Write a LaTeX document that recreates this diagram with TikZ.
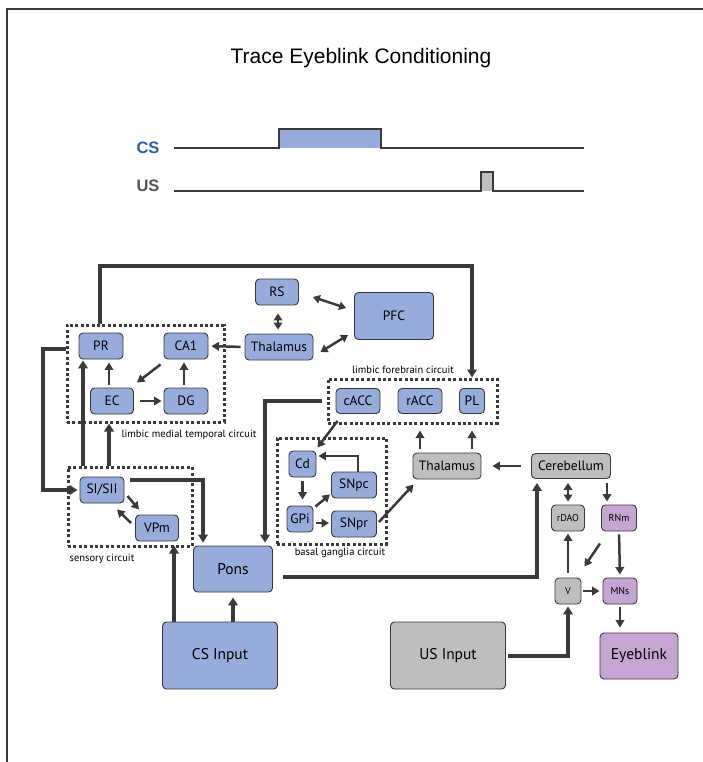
\documentclass[tikz,border=0pt]{standalone}
\usepackage{fontspec}
\setmainfont{PT Sans}
\newfontfamily\arialf{Liberation Sans}
\usetikzlibrary{arrows.meta,calc}
\definecolor{bluef}{HTML}{97ACDB}
\definecolor{grayf}{HTML}{BDBEC0}
\definecolor{purpf}{HTML}{C5A6D3}
\definecolor{edgec}{HTML}{3A3A3A}
\definecolor{csblue}{HTML}{2F5DAA}
\definecolor{usgray}{HTML}{555555}
\tikzset{
  box/.style={draw=edgec, line width=0.9pt, rounded corners=4pt, inner sep=0pt,
    font=\fontsize{13.5}{14}\selectfont},
  bbox/.style={box, fill=bluef},
  gbox/.style={box, fill=grayf},
  pbox/.style={box, fill=purpf},
  smalltxt/.style={font=\fontsize{10}{11}\selectfont},
  bigtxt/.style={font=\fontsize{15.5}{16}\selectfont},
  circ/.style={draw=edgec, line width=3pt, dash pattern=on 3pt off 2.4pt, inner sep=0pt},
  arr/.style={draw=edgec, line width=2.5pt, -{Triangle[length=7.5pt,width=8.5pt]}},
  darr/.style={draw=edgec, line width=2.5pt, {Triangle[length=7pt,width=8.5pt]}-{Triangle[length=7pt,width=8.5pt]}},
  arrb/.style={draw=edgec, line width=3.3pt, -{Triangle[length=8pt,width=9.5pt]}},
  lbl/.style={font=\fontsize{10.5}{11}\selectfont, inner sep=0pt},
}
\begin{document}
\begin{tikzpicture}[x=1pt,y=-1pt]
\useasboundingbox (0,0) rectangle (703,762);
% frame
\draw[edgec, line width=1.4pt] (7,762) -- (7,9) -- (703,9);
% title
\node[font=\arialf\fontsize{21}{24}\selectfont] (title) at (361,58) {Trace Eyeblink Conditioning};
% timeline
\node[font=\arialf\bfseries\fontsize{16.5}{18}\selectfont, text=csblue] (cslab) at (148,148) {CS};
\node[font=\arialf\bfseries\fontsize{16.5}{18}\selectfont, text=usgray] (uslab) at (148,186) {US};
\fill[bluef] (279,129) rectangle (381,148);
\draw[edgec, line width=1.4pt] (174,148) -- (279,148) -- (279,129) -- (381,129) -- (381,148) -- (584,148);
\fill[grayf] (481,172) rectangle (493,191);
\draw[edgec, line width=1.4pt] (174,191) -- (481,191) -- (481,172) -- (493,172) -- (493,191) -- (584,191);

% dotted circuits
\node[circ, minimum width=157pt, minimum height=97pt] (LMT) at (145.5,373.5) {};
\node[circ, minimum width=169pt, minimum height=44pt] (LF) at (412.5,401) {};
\node[circ, minimum width=109pt, minimum height=106pt] (BG) at (331.5,491) {};
\node[circ, minimum width=124pt, minimum height=79pt] (Sens) at (130,506.5) {};
\node[lbl] (lmtl) at (189,435) {limbic medial temporal circuit};
\node[lbl] (lfl) at (403,370) {limbic forebrain circuit};
\node[lbl] (bgl) at (340,553) {basal ganglia circuit};
\node[lbl] (sensl) at (102,559) {sensory circuit};

% nodes
\node[bbox, minimum width=43pt, minimum height=26pt] (RS) at (277,292) {RS};
\node[bbox, minimum width=79pt, minimum height=47pt] (PFC) at (394,316) {PFC};
\node[bbox, minimum width=68pt, minimum height=26pt] (ThalT) at (279,347) {Thalamus};
\node[bbox, minimum width=44pt, minimum height=26pt] (PR) at (101,346) {PR};
\node[bbox, minimum width=44pt, minimum height=26pt] (CA1) at (186,346) {CA1};
\node[bbox, minimum width=43pt, minimum height=26pt] (EC) at (112,401) {EC};
\node[bbox, minimum width=44pt, minimum height=26pt] (DG) at (186,401) {DG};
\node[bbox, minimum width=44pt, minimum height=26pt] (SI) at (102,490) {SI/SII};
\node[bbox, minimum width=43pt, minimum height=26pt] (VPm) at (157,528) {VPm};
\node[bbox, bigtxt, minimum width=79pt, minimum height=46pt] (Pons) at (233,569) {Pons};
\node[bbox, bigtxt, minimum width=115pt, minimum height=67pt] (CSin) at (220,655.5) {CS Input};
\node[gbox, bigtxt, minimum width=115pt, minimum height=67pt] (USin) at (448,655.5) {US Input};
\node[bbox, minimum width=44pt, minimum height=25pt] (cACC) at (358,401) {cACC};
\node[bbox, minimum width=44pt, minimum height=25pt] (rACC) at (420,401) {rACC};
\node[bbox, minimum width=25pt, minimum height=25pt] (PL) at (472,401) {PL};
\node[bbox, minimum width=27pt, minimum height=26pt] (Cd) at (302.5,464) {Cd};
\node[bbox, minimum width=45pt, minimum height=26pt] (SNpc) at (354,485) {SNpc};
\node[bbox, minimum width=26pt, minimum height=26pt] (GPi) at (300,519) {GPi};
\node[bbox, minimum width=45pt, minimum height=26pt] (SNpr) at (354,524) {SNpr};
\node[gbox, minimum width=68pt, minimum height=26pt] (ThalG) at (447,466) {Thalamus};
\node[gbox, minimum width=79pt, minimum height=25pt] (Cereb) at (571,466) {Cerebellum};
\node[gbox, smalltxt, minimum width=33pt, minimum height=26pt] (rDAO) at (568,518) {rDAO};
\node[pbox, smalltxt, minimum width=35pt, minimum height=26pt] (RNm) at (619,518) {RNm};
\node[gbox, smalltxt, minimum width=26pt, minimum height=26pt] (V) at (568,591) {V};
\node[pbox, smalltxt, minimum width=34pt, minimum height=26pt] (MNs) at (620,591) {MNs};
\node[pbox, bigtxt, minimum width=78pt, minimum height=46pt] (Eye) at (639,656) {Eyeblink};

% long connectors
\draw[arrb] (LMT.north -| 100,0) |- (PL.center |- 0,266) -- (LF.north -| PL.center);
\draw[arrb, shorten >=2pt] (LMT.west |- 0,349) -| (43,490) -- (SI.west);
\draw[arrb, shorten >=1pt] (Sens.north -| 83,0) -- (PR.south -| 83,0);
\draw[arrb] (Sens.north -| 109,0) -- (LMT.south -| 109,0);
\draw[arrb, shorten <=6pt, shorten >=3pt] (SI.east |- 0,480) -| (Pons.north -| 203,0);
\draw[arrb, shorten >=-2pt] (CSin.north -| 174,0) -- (Sens.south -| 174,0);
\draw[arrb, shorten >=5pt] (CSin.north -| Pons.south) -- (Pons.south);
\draw[arrb, shorten <=5pt, shorten >=3pt] (LF.west |- cACC) -| (Pons.north -| 265,0);
\draw[arrb, shorten <=10pt, shorten >=4pt] (Pons.east |- 0,577) -| (Cereb.south -| 537,0);
\draw[arrb, shorten <=2pt, shorten >=2pt] (USin.east |- 0,656) -| (V.south);

% limbic medial temporal
\draw[arr, shorten <=4pt, shorten >=3pt] (ThalT.west) -- (CA1.east);
\draw[arr, shorten <=3pt, shorten >=3pt] (EC.north -| 109,0) -- (PR.south -| 109,0);
\draw[arr] ($(CA1.south west)+(-3,5)$) -- ($(EC.north east)+(3,-5)$);
\draw[arr, shorten <=6pt, shorten >=2pt] (EC.east) -- (DG.west);
\draw[arr, shorten <=3pt, shorten >=3pt] (DG.north -| 184,0) -- (CA1.south -| 184,0);
% RS / Thalamus / PFC
\draw[darr, shorten <=8pt, shorten >=4pt] (RS.south -| 278,0) -- (ThalT.north -| 278,0);
\draw[darr] ($(RS.east)+(14,5)$) -- ($(PFC.west)+(-8,-8)$);
\draw[darr] ($(ThalT.east)+(7,5)$) -- ($(PFC.west)+(-6,19)$);
% sensory
\draw[arr] ($(SI.east)+(3,6)$) -- ($(VPm.north west)+(4,-5)$);
\draw[arr] ($(VPm.west)+(-4,-5)$) -- ($(SI.south)+(15,6)$);
% limbic forebrain / thalamus
\draw[arr, shorten <=10pt, shorten >=11pt] (Cereb.west) -- (ThalG.east);
\draw[arr, shorten <=4pt, shorten >=6pt] (ThalG.north -| rACC) -- (LF.south -| rACC);
\draw[arr, shorten <=4pt, shorten >=6pt] (ThalG.north -| PL) -- (LF.south -| PL);
% basal ganglia
\draw[arr] ($(SNpr.east)+(2,-2)$) -- ($(ThalG.south west)+(1,5)$);
\draw[arr] ($(cACC.south west)+(2,7)$) -- ($(Cd.north east)+(1,-3)$);
\draw[arr, shorten >=2pt] (SNpc.north -| 358,0) |- (Cd.east |- 0,456);
\draw[arr, shorten <=4pt, shorten >=6pt] (Cd.south) -- (GPi.north -| Cd.south);
\draw[arr] ($(GPi.north east)+(2,1)$) -- ($(SNpc.south west)+(-1,-4)$);
\draw[arr, shorten <=3pt, shorten >=2pt] (GPi.east |- 0,523) -- (SNpr.west |- 0,523);
% cerebellar
\draw[darr, shorten <=4pt, shorten >=3pt] (Cereb.south -| rDAO) -- (rDAO.north);
\draw[arr, shorten <=4pt, shorten >=3pt] (Cereb.south -| 607,0) -- (RNm.north -| 607,0);
\draw[arr, shorten <=5pt, shorten >=2pt] (V.north) -- (rDAO.south);
\draw[arr] ($(RNm.south)+(-19,12)$) -- ($(V.north east)+(3,-11)$);
\draw[arr, shorten <=3pt, shorten >=3pt] (RNm.south) -- (MNs.north);
\draw[arr, shorten <=2pt, shorten >=3pt] (V.east) -- (MNs.west);
\draw[arr, shorten <=3pt, shorten >=5pt] (MNs.south) -- (Eye.north -| MNs.south);
\end{tikzpicture}
\end{document}
